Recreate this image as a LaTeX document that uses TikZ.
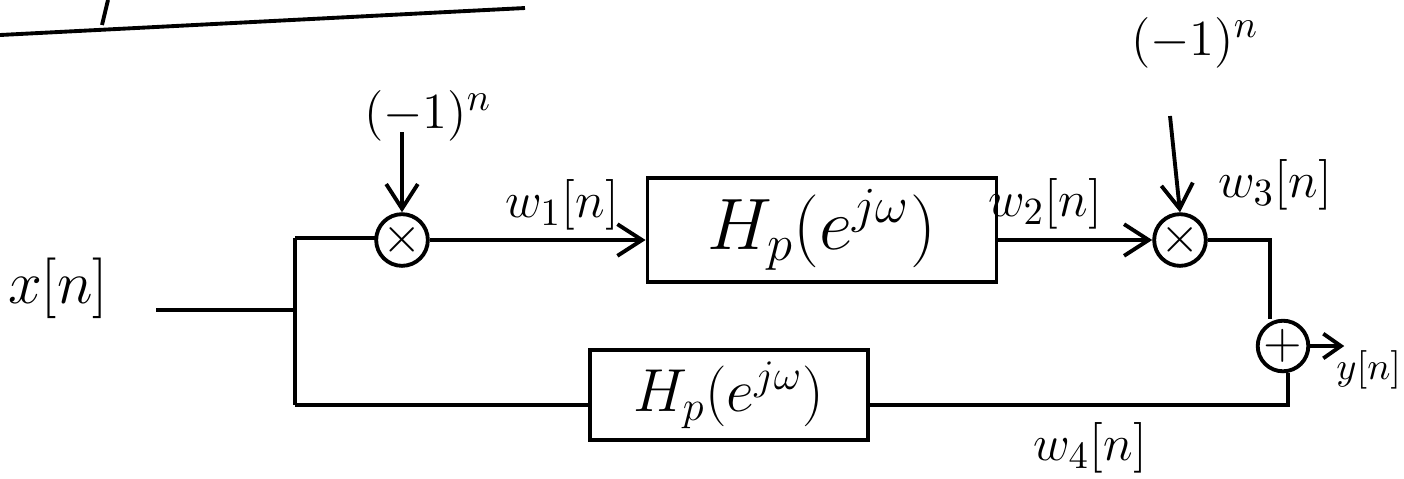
\documentclass[tikz,border=0pt]{standalone}
\usepackage{amsmath, amssymb}
\usepackage{tikz}
\usetikzlibrary{calc, arrows.meta}

\tikzset{
  filtro/.style={draw, line width=1.1pt, minimum width=3.5cm, minimum height=0.64cm},
  nodo/.style={draw, circle, line width=1.1pt, minimum size=0.46cm, inner sep=0pt,
    font=\fontsize{15}{18}\selectfont},
  segnale/.style={font=\fontsize{15}{18}\selectfont}
}

\begin{document}
\begin{tikzpicture}[line width=1.1pt, >={Straight Barb[length=7pt,width=9pt]}]
  \useasboundingbox (0,0) rectangle (14.04,4.78);

  % riga in alto
  \draw (0,4.43) -- (5.25,4.70);
  \draw (1.02,4.53) -- (1.08,4.78);

  % ingresso
  \node[font=\fontsize{19}{22}\selectfont] (xin) at (0.58,1.90) {$x[n]$};
  \coordinate (S) at (2.95,1.68);
  \coordinate (Sa) at (2.95,2.40);
  \coordinate (Sb) at (2.95,0.73);

  % blocchi
  \node[nodo] (M1) at (4.02,2.38) {$\times$};
  \node[nodo] (M2) at (11.80,2.38) {$\times$};
  \node[nodo, minimum size=0.48cm] (A) at (12.83,1.32) {$+$};
  \node[filtro, minimum width=3.49cm, font=\fontsize{22}{26}\selectfont]
    (H1) at (8.22,2.48) {$H_p(e^{j\omega})$};
  \node[filtro, minimum width=2.78cm, minimum height=0.74cm, font=\fontsize{18}{22}\selectfont]
    (H2) at (7.29,0.83) {$H_p(e^{j\omega})$};

  % modulazioni
  \node[segnale] (m1) at (4.28,3.62) {$(-1)^n$};
  \node[segnale] (m2) at (11.95,4.35) {$(-1)^n$};
  \coordinate (m1b) at ($(M1.north)+(0,0.8)$);
  \coordinate (m2b) at (11.70,3.62);
  \draw[->] (m1b) -- (M1.north);
  \draw[->] (m2b) -- (M2.north);

  % collegamenti
  \draw (xin.east |- S) ++(0.35,0) -- (S);
  \draw (Sa) -- (Sb);
  \draw (Sa) -- (M1.west |- Sa) -- (M1.west);
  \draw[->] (M1.east) -- (H1.west |- M1.east);
  \draw[->] (H1.east |- M2.west) -- (M2.west);
  \coordinate (C3) at (12.70,2.38);
  \draw (M2.east) -- (C3) -- (C3 |- A.north);
  \coordinate (C4) at (12.88,0.73);
  \draw (A.south -| C4) -- (C4) -- (H2.east |- C4);
  \draw (Sb) -- (H2.west |- Sb);
  \node[font=\fontsize{11}{13}\selectfont, anchor=east, inner sep=0pt] (yout) at (14.03,1.08) {$y[n]$};
  \draw[-{Straight Barb[length=5pt,width=7pt]}] (A.east) -- ++(0.34,0);

  % etichette
  \node[segnale] (w1) at (5.62,2.73) {$w_1[n]$};
  \node[segnale] (w2) at (10.45,2.74) {$w_2[n]$};
  \node[segnale] (w3) at (12.75,2.93) {$w_3[n]$};
  \node[segnale] (w4) at (10.90,0.30) {$w_4[n]$};
\end{tikzpicture}
\end{document}
